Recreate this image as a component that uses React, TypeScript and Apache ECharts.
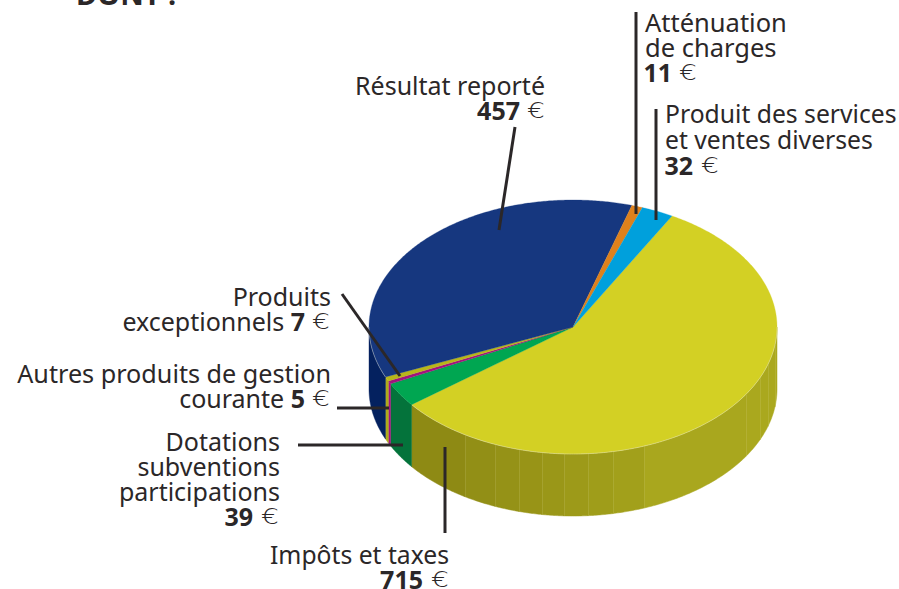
import React, { useEffect, useRef } from "react";
import * as echarts from "echarts";

const categories = [
  "Impôts et taxes",
  "Dotations subventions participations",
  "Autres produits de gestion courante",
  "Produits exceptionnels",
  "Résultat reporté",
  "Atténuation de charges",
  "Produit des services et ventes diverses",
];
const values = [715, 39, 5, 7, 457, 11, 32];
const topColors = ["#d3d024", "#00a651", "#a3127f", "#b8b61a", "#16377f", "#de811c", "#00a0dc"];
const rimColors = ["#9c9918", "#04733b", "#a3127f", "#aeac1a", "#04215f", "#de811c", "#00a0dc"];

const W = 899;
const H = 589;
const CX = 573;
const CY = 327;
const RX = 204;
const RY = 127;
const DEPTH = 62;
const START_DEG = -61;
const FONT = "'Noto Sans'";
const SIZE = 25;
const INK = "#2b2728";

// Positions (screen x) of the thin seams of the yellow wall
const seamX = [775, 768, 760, 746, 644, 613, 588, 564, 542, 519, 495, 465];

const rad = (d: number) => (d * Math.PI) / 180;
const pt = (deg: number, dy = 0): number[] => [
  CX + RX * Math.cos(rad(deg)),
  CY + RY * Math.sin(rad(deg)) + dy,
];
const arc = (a: number, b: number, dy = 0): number[][] => {
  const n = Math.max(2, Math.ceil(Math.abs(b - a) / 0.5));
  const out: number[][] = [];
  for (let i = 0; i <= n; i++) out.push(pt(a + ((b - a) * i) / n, dy));
  return out;
};
const total = values.reduce((s, v) => s + v, 0);
const startOf = (i: number) =>
  START_DEG + (values.slice(0, i).reduce((s, v) => s + v, 0) / total) * 360;

const mix = (a: number[], b: number[], t: number) => {
  const c = a.map((v, i) => Math.round(v + (b[i] - v) * t));
  return `rgb(${c[0]},${c[1]},${c[2]})`;
};
const yellowWall = (x: number) => {
  const t = Math.min(1, Math.max(0, (x - 440) / (700 - 440)));
  return mix([0x8e, 0x8a, 0x14], [0xaa, 0xa8, 0x1e], t);
};

function renderSlice(params: any, api: any) {
  const i = params.dataIndex;
  const a0 = startOf(i);
  const a1 = a0 + (api.value(0) / total) * 360;
  const children: any[] = [];
  // outer wall: only the front half of the rim can be seen
  const w0 = Math.max(a0, 0);
  const w1 = Math.min(a1, 180);
  if (w1 > w0) {
    if (i === 0) {
      const cuts = [w0, ...seamX.map((x) => (Math.acos((x - CX) / RX) * 180) / Math.PI), w1];
      for (let k = 0; k < cuts.length - 1; k++) {
        const top = arc(cuts[k], cuts[k + 1]);
        const bot = arc(cuts[k + 1], cuts[k], DEPTH);
        const fill = yellowWall((top[0][0] + top[top.length - 1][0]) / 2);
        children.push({
          type: "polygon",
          shape: { points: [...top, ...bot] },
          style: { fill, stroke: fill, lineWidth: 0.5 },
        });
        if (k < cuts.length - 2) {
          children.push({
            type: "line",
            shape: {
              x1: pt(cuts[k + 1])[0],
              y1: pt(cuts[k + 1])[1],
              x2: pt(cuts[k + 1])[0],
              y2: pt(cuts[k + 1])[1] + DEPTH,
            },
            style: { stroke: "rgba(225,225,170,0.55)", lineWidth: 0.8 },
          });
        }
      }
    } else {
      children.push({
        type: "polygon",
        shape: { points: [...arc(w0, w1), ...arc(w1, w0, DEPTH)] },
        style: { fill: rimColors[i], stroke: rimColors[i], lineWidth: 0.4 },
      });
    }
  }
  // top face
  children.push({
    type: "polygon",
    shape: { points: [[CX, CY], ...arc(a0, a1)] },
    style: { fill: topColors[i], stroke: topColors[i], lineWidth: 0.3 },
  });
  // fine light edge where the top meets the wall
  if (w1 > w0 && (i === 0 || i === 4)) {
    children.push({
      type: "polyline",
      shape: { points: arc(w0, w1) },
      style: { fill: "none", stroke: "rgba(235,235,215,0.5)", lineWidth: 0.8 },
    });
  }
  return { type: "group", children };
}

const plain = (text: string, x: number, y: number, align: string, size: number = SIZE) => ({
  type: "text",
  z: 100,
  x,
  y,
  style: {
    text,
    fill: INK,
    font: `${size}px ${FONT}`,
    textAlign: align,
    textVerticalAlign: "middle",
  },
});
const amount = (prefix: string, value: number, numEnd: number, euroLeft: number, y: number) => [
  {
    type: "text",
    z: 100,
    x: numEnd,
    y,
    style: {
      text: `${prefix ? `{p|${prefix} }` : ""}{b|${value}}`,
      fill: INK,
      textAlign: "right",
      textVerticalAlign: "middle",
      rich: {
        p: { fontFamily: "Noto Sans", fontSize: SIZE, fill: INK },
        b: { fontFamily: "Noto Sans", fontSize: SIZE, fontWeight: "bold", fill: INK },
      },
    },
  },
  {
    type: "text",
    z: 100,
    x: euroLeft,
    y: y + 1,
    scaleX: 1.28,
    style: {
      text: "€",
      fill: INK,
      fontFamily: "DejaVu Sans",
      fontSize: 22,
      fontWeight: 200,
      textAlign: "left",
      textVerticalAlign: "middle",
    },
  },
];
const leader = (x1: number, y1: number, x2: number, y2: number) => ({
  type: "line",
  z: 100,
  shape: { x1, y1, x2, y2 },
  style: { stroke: INK, lineWidth: 3 },
});

export default function App() {
  const ref = useRef<HTMLDivElement>(null);
  useEffect(() => {
    document.body.style.margin = "0";
    const chart = echarts.init(ref.current!, null, { renderer: "svg" });
    chart.setOption({
      animation: false,
      backgroundColor: "#ffffff",
      series: [
        {
          type: "custom",
          coordinateSystem: "none",
          renderItem: renderSlice,
          data: values.map((value, i) => ({ name: categories[i], value: [value] })),
          silent: true,
        },
      ],
      graphic: [
        leader(636, 12, 636, 214),
        leader(656, 109, 656, 220),
        leader(515, 127, 499, 230),
        leader(342, 294, 400, 376),
        leader(337, 408, 389, 408),
        leader(298, 445, 403, 445),
        leader(445, 447, 445, 533),
        {
          type: "text",
          z: 100,
          x: 76,
          y: 8,
          style: {
            text: "DONT :",
            fill: INK,
            font: `bold 29px ${FONT}`,
            textAlign: "left",
            textVerticalAlign: "bottom",
          },
        },
        plain("Atténuation", 645, 22, "left", 25.5),
        plain("de charges", 645, 47, "left", 25.5),
        ...amount("", values[5], 672, 679, 72),
        plain("Produit des services", 665, 113, "left", 24.7),
        plain("et ventes diverses", 665, 139, "left", 24.7),
        ...amount("", values[6], 693, 701, 165),
        plain("Résultat reporté", 545, 85, "right"),
        ...amount("", values[4], 520, 527, 110),
        plain("Produits", 331, 296, "right"),
        ...amount("exceptionnels", values[3], 305, 312, 321),
        plain("Autres produits de gestion", 331, 373, "right", 25.2),
        ...amount("courante", values[2], 305, 312, 398),
        plain("Dotations", 280, 441, "right"),
        plain("subventions", 280, 466, "right"),
        plain("participations", 280, 491, "right"),
        ...amount("", values[1], 253, 261, 516),
        plain("Impôts et taxes", 449, 554, "right", 24.7),
        ...amount("", values[0], 423, 431, 579),
      ],
    });
    return () => chart.dispose();
  }, []);
  return <div ref={ref} style={{ position: "fixed", left: 0, top: 0, width: W, height: H }} />;
}
